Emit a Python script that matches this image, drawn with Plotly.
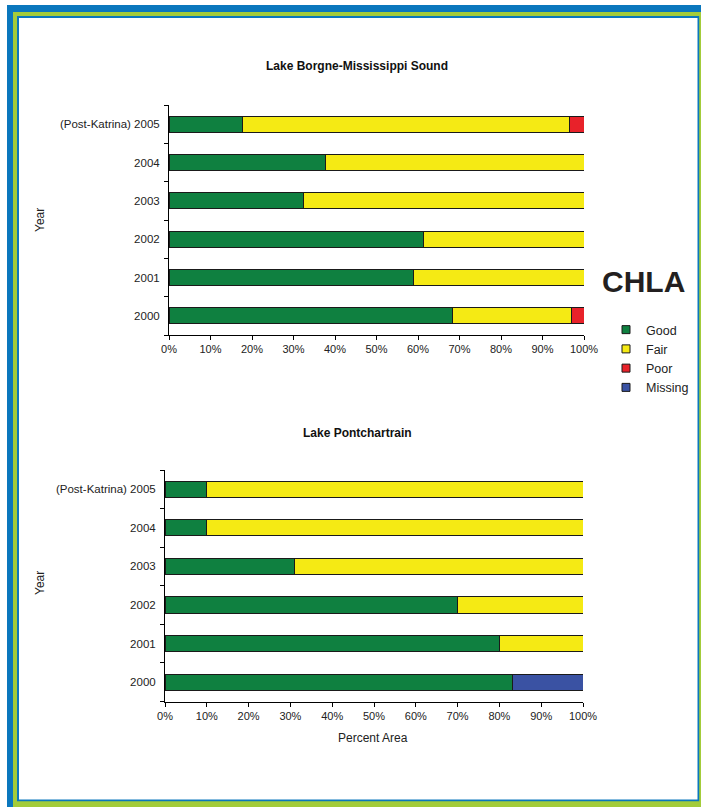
import plotly.graph_objects as go

# ---------------- data ----------------
years = ["2000", "2001", "2002", "2003", "2004", "(Post-Katrina) 2005"]

borgne_good = [68.4, 58.8, 61.4, 32.5, 37.8, 17.8]
borgne_fair = [28.6, 41.2, 38.6, 67.5, 62.2, 78.7]
borgne_poor = [3.0, None, None, None, None, 3.5]

pont_good = [83.2, 80.0, 70.0, 31.0, 10.0, 10.0]
pont_fair = [None, 20.0, 30.0, 69.0, 90.0, 90.0]
pont_missing = [16.8, None, None, None, None, None]

x_ticks = [0, 10, 20, 30, 40, 50, 60, 70, 80, 90, 100]
x_ticktext = [f"{v}%" for v in x_ticks]

title_top = "Lake Borgne-Mississippi Sound"
title_bottom = "Lake Pontchartrain"

# ---------------- style ----------------
W, H = 701, 807
FONT = "Arial, Liberation Sans, sans-serif"
C_GOOD = "#0f8040"
C_FAIR = "#f5ea14"
C_POOR = "#e8222a"
C_MISS = "#3a52a3"
C_EDGE = "#1a1a1a"
FRAME_BLUE = "#0b77bd"
FRAME_GREEN = "#a3cc3a"


def fx(p):
    return p / W


def fy(p):
    return 1 - p / H


fig = go.Figure()


def add_bar(name, vals, color, xa, ya):
    fig.add_trace(go.Bar(
        y=years, x=vals, name=name, orientation="h",
        marker=dict(color=color, line=dict(color=C_EDGE, width=1)),
        xaxis=xa, yaxis=ya, showlegend=False, legendgroup=name,
        hoverinfo="x+y+name",
    ))


add_bar("Good", borgne_good, C_GOOD, "x", "y")
add_bar("Fair", borgne_fair, C_FAIR, "x", "y")
add_bar("Poor", borgne_poor, C_POOR, "x", "y")
add_bar("Good", pont_good, C_GOOD, "x2", "y2")
add_bar("Fair", pont_fair, C_FAIR, "x2", "y2")
add_bar("Missing", pont_missing, C_MISS, "x2", "y2")

# legend entries (small square swatches like the original)
for name, color in [("Good", C_GOOD), ("Fair", C_FAIR), ("Poor", C_POOR), ("Missing", C_MISS)]:
    fig.add_trace(go.Scatter(
        x=[None], y=[None], mode="markers", name=name, legendgroup=name,
        marker=dict(symbol="square", size=8, color=color, line=dict(color=C_EDGE, width=1)),
        xaxis="x", yaxis="y", showlegend=True,
    ))

xaxis_common = dict(
    range=[0, 100], tickmode="array", tickvals=x_ticks, ticktext=x_ticktext,
    showline=True, linecolor="#000", linewidth=1,
    ticks="outside", ticklen=4, tickcolor="#000", tickwidth=1,
    showgrid=False, zeroline=False,
    tickfont=dict(family=FONT, size=11, color="#222"),
    fixedrange=True,
)
yaxis_common = dict(
    type="category", categoryorder="array", categoryarray=years,
    range=[-0.5, 5.5],
    showline=True, linecolor="#000", linewidth=1,
    ticks="outside", ticklen=4, tickcolor="#000", tickwidth=1,
    tickson="boundaries", ticklabelstandoff=6,
    showgrid=False, zeroline=False,
    tickfont=dict(family=FONT, size=11.5, color="#222"),
    fixedrange=True,
)

fig.update_layout(
    width=W, height=H,
    margin=dict(l=0, r=0, t=0, b=0, autoexpand=False),
    paper_bgcolor="white", plot_bgcolor="rgba(0,0,0,0)",
    barmode="stack", bargap=0.58,
    font=dict(family=FONT, color="#222"),
    xaxis=dict(domain=[fx(169), fx(584)], anchor="y", **xaxis_common),
    yaxis=dict(domain=[fy(335), fy(105)], anchor="x", **yaxis_common),
    xaxis2=dict(domain=[fx(165), fx(583)], anchor="y2", **xaxis_common),
    yaxis2=dict(domain=[fy(701.5), fy(470)], anchor="x2", **yaxis_common),
    legend=dict(
        x=fx(606), y=fy(315), xanchor="left", yanchor="top",
        font=dict(family=FONT, size=12.5, color="#222"),
        bgcolor="rgba(0,0,0,0)", tracegroupgap=0, itemwidth=30,
        traceorder="normal",
    ),
    showlegend=True,
)

# frame (blue / green / thin blue borders)
shapes = [
    dict(type="rect", xref="paper", yref="paper", x0=fx(7), x1=fx(730), y0=fy(5), y1=fy(840),
         fillcolor=FRAME_BLUE, line=dict(width=0), layer="below"),
    dict(type="rect", xref="paper", yref="paper", x0=fx(13), x1=fx(730), y0=fy(12), y1=fy(840),
         fillcolor=FRAME_GREEN, line=dict(width=0), layer="below"),
    dict(type="rect", xref="paper", yref="paper", x0=fx(17), x1=fx(699.2), y0=fy(16), y1=fy(801.3),
         fillcolor=FRAME_BLUE, line=dict(width=0), layer="below"),
    dict(type="rect", xref="paper", yref="paper", x0=fx(19), x1=fx(697.5), y0=fy(18), y1=fy(799.5),
         fillcolor="white", line=dict(width=0), layer="below"),
]
fig.update_layout(shapes=shapes)


def note(text, x, y, size, color="#222", angle=0):
    return dict(text=text, x=fx(x), y=fy(y), xref="paper", yref="paper",
                xanchor="center", yanchor="middle", textangle=angle,
                showarrow=False, font=dict(family=FONT, size=size, color=color))


annotations = [
    note("<b>" + title_top + "</b>", 357, 66, 12, "#111"),
    note("<b>" + title_bottom + "</b>", 357, 433, 12, "#111"),
    note("Year", 40, 220, 12, angle=-90),
    note("Year", 40, 583, 12, angle=-90),
    note("Percent Area", 373, 738, 12),
    note("<b>CHLA</b>", 643.5, 281, 30, "#231f20"),
]
fig.update_layout(annotations=annotations)

fig.write_html(
    "out.html",
    config={"displayModeBar": False},
    post_script="document.body.style.margin='0';document.body.style.padding='0';",
)
